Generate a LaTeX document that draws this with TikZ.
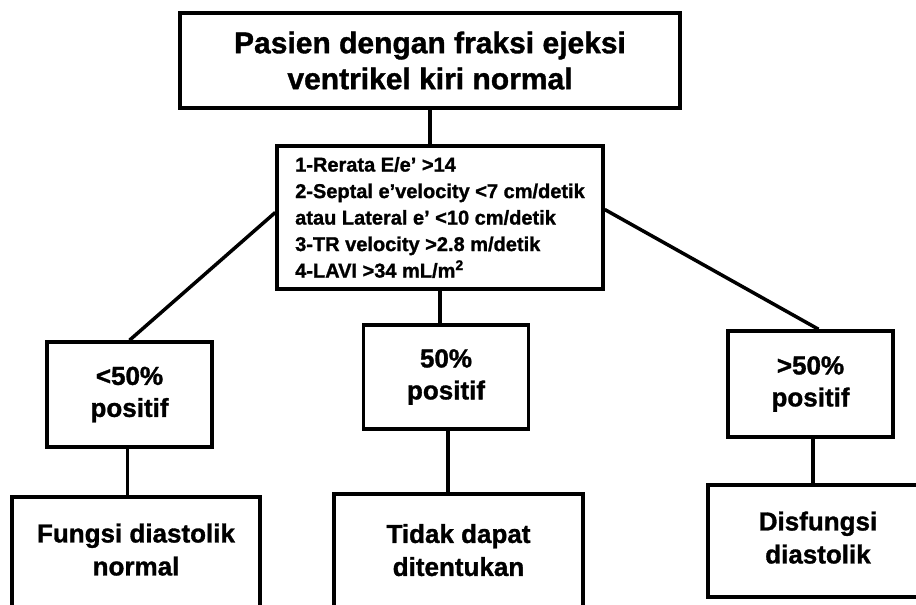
\documentclass[tikz,border=0pt]{standalone}
\usepackage{fontspec}
\setmainfont{Liberation Sans}[BoldFeatures={FakeBold=1.2}]
\usepackage{xcolor}
\usepackage{tikz}
\usetikzlibrary{positioning,calc}
\definecolor{boxline}{RGB}{0,0,0}
\tikzset{
  box/.style={rectangle,draw=boxline,line width=3.5pt,fill=white,inner sep=0pt,
              align=center,font=\bfseries},
  headbox/.style={box,minimum width=500pt,minimum height=95pt,
                  font=\fontsize{30}{36}\selectfont\bfseries},
  critbox/.style={box,align=left,minimum width=326pt,minimum height=143pt,
                  font=\fontsize{20}{26.5}\selectfont\bfseries},
  pctbox/.style={box,minimum width=165pt,minimum height=105pt,
                 font=\fontsize{26}{32}\selectfont\bfseries},
  resbox/.style={box,minimum height=114pt,
                 font=\fontsize{26}{33}\selectfont\bfseries},
  link/.style={line width=3.5pt,boxline},
}

\begin{document}
\begin{tikzpicture}[x=1pt,y=-1pt]
  \clip (0,0) rectangle (916,605);
  \fill[white] (0,0) rectangle (916,605);
  % top and criteria
  \node[headbox] (head) at (430,60.5) {Pasien dengan fraksi ejeksi\\ventrikel kiri normal};
  \node[critbox] (crit) at (440,217.5) {1-Rerata E/e’ >14\\2-Septal e’velocity <7 cm/detik\\atau Lateral e’ <10 cm/detik\\3-TR velocity >2.8 m/detik\\4-LAVI >34 mL/m\textsuperscript{2}};
  % percentage boxes
  \node[pctbox] (lo) at (129.5,394.5) {<50\%\\positif};
  \node[pctbox,minimum height=104pt] (mid) at (446,377) {50\%\\positif};
  \node[pctbox,minimum height=106pt] (hi) at (810.5,384) {>50\%\\positif};
  % results
  \node[resbox,minimum width=248pt,minimum height=116pt,text depth=11pt] (fn) at (136,555) {Fungsi diastolik\\normal};
  \node[resbox,minimum width=249pt,minimum height=118pt,text depth=6pt] (td) at (458.5,553) {Tidak dapat\\ditentukan};
  \node[resbox,minimum width=220pt,minimum height=112pt,text depth=7pt] (ds) at (818,541) {Disfungsi\\diastolik};
  % connectors
  \draw[link] (head.south) -- (head.south |- crit.north);
  \draw[link] (crit.south) -- (crit.south |- mid.north);
  \draw[link] ($(crit.west)+(0,-5)$) -- (lo.north);
  \draw[link] ($(crit.east)+(0,-8)$) -- ($(hi.north)+(8,0)$);
  \draw[link] ($(lo.south)+(-2,0)$) -- ($(lo.south |- fn.north)+(-2,0)$);
  \draw[link] ($(mid.south)+(2,0)$) -- ($(mid.south |- td.north)+(2,0)$);
  \draw[link] ($(hi.south)+(2.5,0)$) -- ($(hi.south |- ds.north)+(2.5,0)$);
\end{tikzpicture}
\end{document}
